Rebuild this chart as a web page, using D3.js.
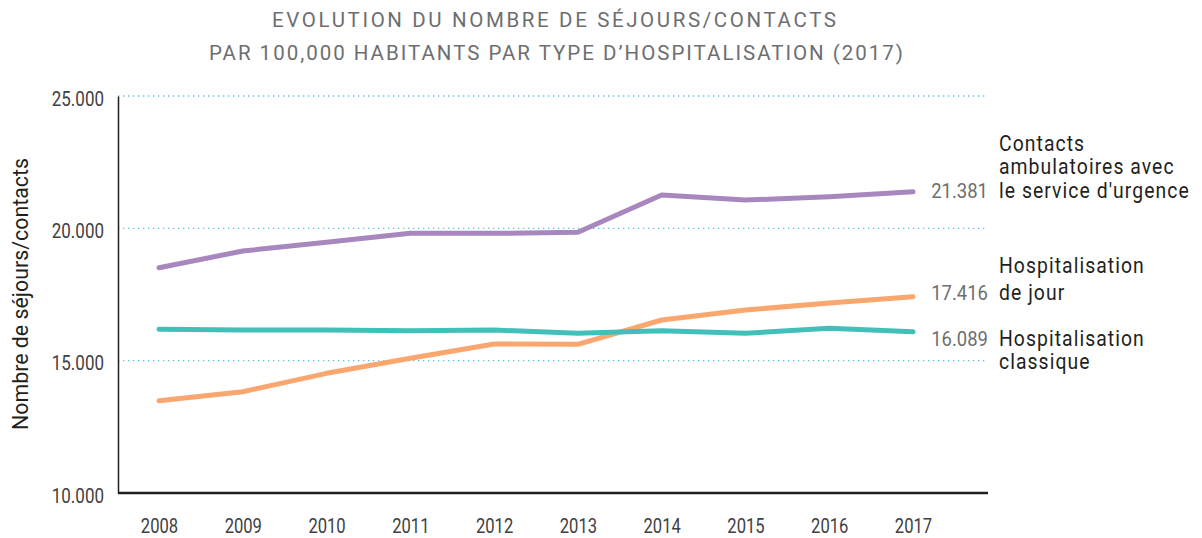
<!DOCTYPE html>
<html><head><meta charset="utf-8">
<script src="https://cdn.jsdelivr.net/npm/d3@7"></script>
<style>
html,body{margin:0;padding:0;background:#fff;}
svg text{font-family:"Roboto","Liberation Sans",sans-serif;}
</style></head>
<body><svg id="c" width="1202" height="538"></svg>
<script>
const years = ["2008","2009","2010","2011","2012","2013","2014","2015","2016","2017"];
const urgence = [18512,19143,19471,19811,19811,19849,21258,21069,21194,21381];
const jour = [13488,13828,14522,15089,15629,15618,16536,16914,17178,17416];
const classique = [16184,16158,16158,16132,16158,16033,16132,16033,16222,16089];
const yTicks = [10000,15000,20000,25000];
const titleLines = ["EVOLUTION DU NOMBRE DE SÉJOURS/CONTACTS","PAR 100,000 HABITANTS PAR TYPE D’HOSPITALISATION (2017)"];
const yLabel = "Nombre de séjours/contacts";
const seriesNames = [["Contacts","ambulatoires avec","le service d'urgence"],["Hospitalisation","de jour"],["Hospitalisation","classique"]];
const seriesValues = [urgence, jour, classique];
const valueLabels = ["21.381","17.416","16.089"];

// layout / style
const colors = ["#a787be","#f9a76e","#41bfb8"];
const labelBaselines = [[151,174,198],[273,300],[346,369]];
const valueBaselines = [198,300,346];
const titleWidths = [564, 694];

const svg = d3.select("#c");
const tickFmt = v => d3.format(",")(v).replace(/,/g,".");

const x = d3.scalePoint().domain(years).range([159,913]);
const y = d3.scaleLinear().domain([10000,25000]).range([493,96]);
const axL = 118, axR = 988;

function squeeze(sel, sx){
  sel.each(function(){
    const t = d3.select(this);
    const tx = +t.attr("x")||0, ty = +t.attr("y")||0;
    const prev = t.attr("transform")||"";
    t.attr("x",0).attr("y",0).attr("transform",`${prev} translate(${tx},${ty}) scale(${sx},1)`);
  });
}

// title
svg.selectAll("text.title").data(titleLines).join("text")
  .attr("class","title").attr("x",(d,i)=>i===0?272:209).attr("y",(d,i)=>27+i*33)
  .attr("fill","#6d6e71")
  .attr("textLength",(d,i)=>titleWidths[i]).attr("lengthAdjust","spacing")
  .style("font-size","20.5px").text(d=>d);

// gridlines
svg.append("g").selectAll("line").data(yTicks.filter(t=>t>10000)).join("line")
  .attr("x1",axL).attr("x2",axR).attr("y1",d=>y(d)).attr("y2",d=>y(d))
  .attr("stroke","#4cc3ea").attr("stroke-width",1.3).attr("stroke-dasharray","1.3,3.7");

// y axis
const yAxis = d3.axisLeft(y).tickValues(yTicks).tickSize(0).tickPadding(14).tickFormat(tickFmt);
const gy = svg.append("g").attr("transform",`translate(${axL},0)`).call(yAxis);
gy.select(".domain").attr("stroke","#231f20").attr("stroke-width",1.5);
gy.selectAll(".tick text").attr("fill","#414042").style("font-size","20px")
  .attr("dy",null).attr("x",-14).attr("y",9).call(squeeze,0.85);

// x axis
const xAxis = d3.axisBottom(x).tickSize(0).tickPadding(26);
const gx = svg.append("g").attr("transform","translate(0,493)").call(xAxis);
gx.select(".domain").remove();
gx.append("line").attr("x1",axL).attr("x2",axR).attr("y1",0).attr("y2",0).attr("stroke","#231f20").attr("stroke-width",2.5);
gx.selectAll(".tick text").attr("fill","#414042").style("font-size","21px")
  .attr("dy",null).attr("y",40).call(squeeze,0.79);

// y label
svg.append("text").attr("transform","translate(28,294) rotate(-90) scale(0.93,1)")
  .attr("text-anchor","middle").attr("fill","#231f20").style("font-size","23px").text(yLabel);

// lines
const line = d3.line().x((d,i)=>x(years[i])).y(d=>y(d));
seriesValues.forEach((vals,si)=>{
  svg.append("path").datum(vals).attr("d",line).attr("fill","none")
    .attr("stroke",colors[si]).attr("stroke-width",5).attr("stroke-linecap","round").attr("stroke-linejoin","round");
  svg.append("text").attr("x",988).attr("y",valueBaselines[si]).attr("text-anchor","end")
    .attr("fill","#6d6e71").style("font-size","21px").text(valueLabels[si]).call(squeeze,0.88);
  svg.append("g").selectAll("text").data(seriesNames[si]).join("text")
    .attr("x",999).attr("y",(d,i)=>labelBaselines[si][i]).attr("fill","#231f20")
    .style("font-size","22px").style("letter-spacing","1.2px").text(d=>d).call(squeeze,0.88);
});
</script></body></html>
